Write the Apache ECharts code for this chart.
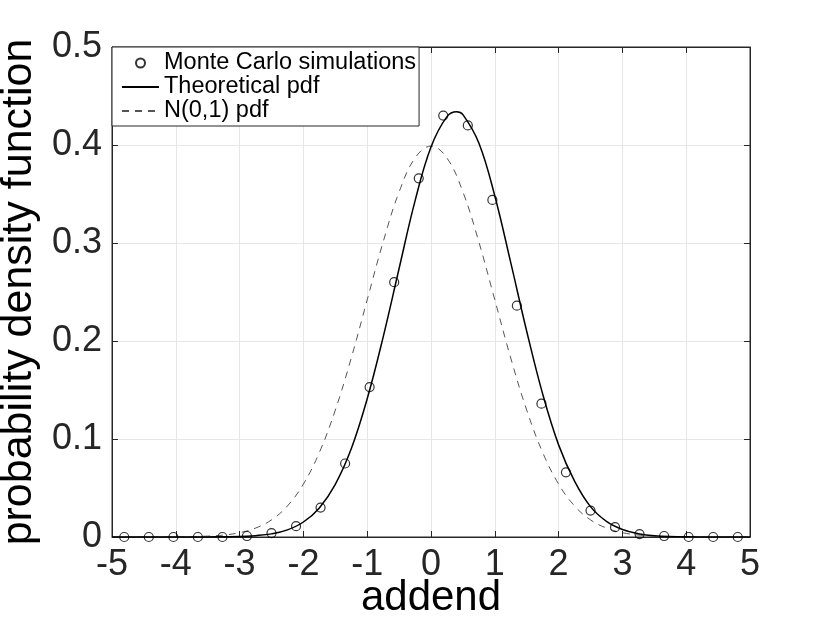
<!DOCTYPE html>
<html>
<head>
<meta charset="utf-8">
<script src="https://cdn.jsdelivr.net/npm/echarts@6/dist/echarts.min.js"></script>
<style>html,body{margin:0;padding:0;background:#fff}#c{width:830px;height:632px}</style>
</head>
<body>
<div id="c"></div>
<script>
// Monte Carlo histogram bin centers (26 bins over [-5,5]) and estimated densities
const mcX = [-4.808,-4.423,-4.038,-3.654,-3.269,-2.885,-2.500,-2.115,-1.731,-1.346,-0.962,-0.577,-0.192,0.192,0.577,0.962,1.346,1.731,2.115,2.500,2.885,3.269,3.654,4.038,4.423,4.808];
const mcY = [0,0,0,0,0,0.001,0.004,0.011,0.030,0.075,0.153,0.260,0.366,0.430,0.420,0.344,0.236,0.136,0.066,0.027,0.010,0.003,0.001,0,0,0];
// Theoretical pdf
const thX = [-5,-4,-3.5,-3,-2.75,-2.5,-2.25,-2,-1.75,-1.5,-1.25,-1,-0.75,-0.5,-0.25,0,0.25,0.4,0.5,0.75,1,1.25,1.5,1.75,2,2.25,2.5,2.75,3,3.25,3.5,4,4.5,5];
const thY = [0,0,0.0001,0.0005,0.0014,0.0032,0.0073,0.0153,0.0297,0.0538,0.090,0.141,0.204,0.274,0.343,0.398,0.429,0.434,0.431,0.402,0.348,0.280,0.210,0.146,0.094,0.057,0.031,0.016,0.0077,0.0034,0.0014,0.0002,0,0];
// N(0,1) pdf
const nX = [-5,-4,-3.5,-3.25,-3,-2.75,-2.5,-2.25,-2,-1.75,-1.5,-1.25,-1,-0.75,-0.5,-0.25,0,0.25,0.5,0.75,1,1.25,1.5,1.75,2,2.25,2.5,2.75,3,3.25,3.5,4,5];
const nY = [0,0.0001,0.0009,0.0020,0.0044,0.0091,0.0175,0.0317,0.0540,0.0863,0.1295,0.1826,0.2420,0.3011,0.3521,0.3867,0.3989,0.3867,0.3521,0.3011,0.2420,0.1826,0.1295,0.0863,0.0540,0.0317,0.0175,0.0091,0.0044,0.0020,0.0009,0.0001,0];
const xTicks = [-5,-4,-3,-2,-1,0,1,2,3,4,5];
const yTicks = [0,0.1,0.2,0.3,0.4,0.5];
const seriesNames = ['Monte Carlo simulations','Theoretical pdf','N(0,1) pdf'];

const zip = (a,b) => a.map((v,i)=>[v,b[i]]);
const FONT = 'Liberation Sans';
const AX = '#262626';
const chart = echarts.init(document.getElementById('c'), null, {renderer:'canvas'});
chart.setOption({
  animation:false,
  backgroundColor:'#fff',
  grid:{left:112,right:80,top:47,bottom:95,containLabel:false,outerBoundsMode:'none',
    show:true,borderColor:AX,borderWidth:1,backgroundColor:'transparent'},
  legend:{
    orient:'vertical',left:112,top:47,
    data:[
      {name:seriesNames[0]},
      {name:seriesNames[1],itemStyle:{opacity:0}},
      {name:seriesNames[2],itemStyle:{opacity:0}}
    ],
    backgroundColor:'#fff',borderColor:AX,borderWidth:1,
    padding:[4,3,3,9],itemGap:0,itemWidth:37,itemHeight:9,
    textStyle:{fontFamily:FONT,fontSize:23.5,color:'#000'}
  },
  xAxis:[{
    type:'value',min:-5,max:5,interval:1,
    name:'addend',nameLocation:'middle',nameGap:40,nameMoveOverlap:false,
    nameTextStyle:{fontFamily:FONT,fontSize:42,color:'#000'},
    axisLine:{show:true,onZero:false,lineStyle:{color:AX,width:1}},
    axisTick:{show:true,inside:true,length:6,lineStyle:{color:AX}},
    axisLabel:{fontFamily:FONT,fontSize:36,color:AX,margin:10,
      formatter:v=>xTicks.includes(v)?String(v):''},
    splitLine:{show:true,lineStyle:{color:'#e6e6e6',width:1}}
  },{
    type:'value',min:-5,max:5,interval:1,position:'top',
    axisLine:{show:true,onZero:false,lineStyle:{color:AX}},
    axisTick:{show:true,inside:true,length:6,lineStyle:{color:AX}},
    axisLabel:{show:false},splitLine:{show:false}
  }],
  yAxis:[{
    type:'value',min:0,max:0.5,interval:0.1,
    name:'probability density function',nameLocation:'middle',nameGap:60,
    nameTextStyle:{fontFamily:FONT,fontSize:43,color:'#000'},
    axisLine:{show:true,onZero:false,lineStyle:{color:AX,width:1}},
    axisTick:{show:true,inside:true,length:6,lineStyle:{color:AX}},
    axisLabel:{fontFamily:FONT,fontSize:36,color:AX,margin:10,
      formatter:v=>{const t=yTicks.find(k=>Math.abs(k-v)<1e-9);return t===undefined?'':(t===0?'0':t.toFixed(1));}},
    splitLine:{show:true,lineStyle:{color:'#e6e6e6',width:1}}
  },{
    type:'value',min:0,max:0.5,interval:0.1,position:'right',
    axisLine:{show:true,onZero:false,lineStyle:{color:AX}},
    axisTick:{show:true,inside:true,length:6,lineStyle:{color:AX}},
    axisLabel:{show:false},splitLine:{show:false}
  }],
  series:[
    {name:seriesNames[0],type:'scatter',data:zip(mcX,mcY),symbol:'circle',symbolSize:9,z:5,
      itemStyle:{color:'rgba(0,0,0,0)',borderColor:'#000',borderWidth:1.2}},
    {name:seriesNames[1],type:'line',data:zip(thX,thY),smooth:0.4,symbol:'none',showSymbol:false,z:4,
      lineStyle:{color:'#000',width:1.5},itemStyle:{color:'#000'}},
    {name:seriesNames[2],type:'line',data:zip(nX,nY),smooth:0.4,symbol:'none',showSymbol:false,z:3,
      lineStyle:{color:'#555',width:1,type:[7,6]},itemStyle:{color:'#555'}}
  ]
});
</script>
</body>
</html>
